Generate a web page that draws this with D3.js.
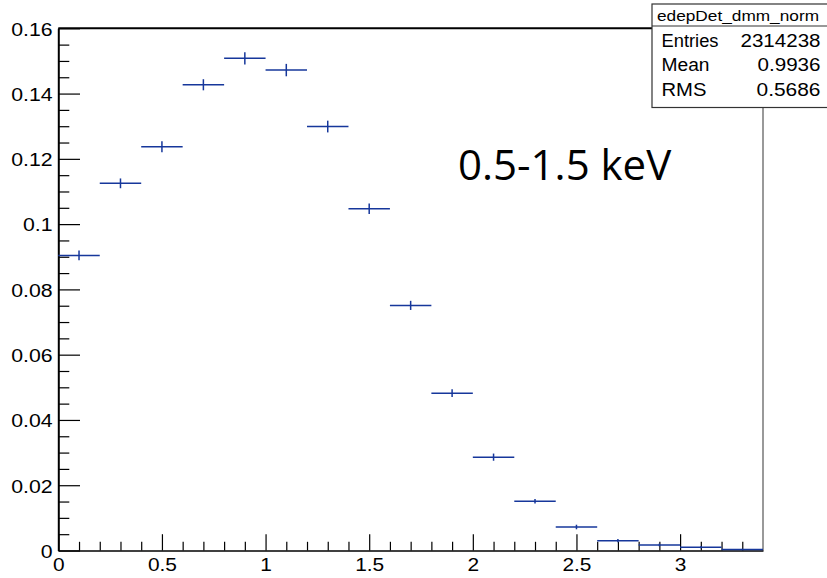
<!DOCTYPE html>
<html>
<head>
<meta charset="utf-8">
<script src="https://cdn.jsdelivr.net/npm/d3@7"></script>
<style>
  html, body { margin: 0; padding: 0; background: #fff; }
  svg { display: block; }
</style>
</head>
<body>
<svg id="chart" width="827" height="578"></svg>
<script>
// ---- data ----
const binCenters = [0.1, 0.3, 0.5, 0.7, 0.9, 1.1, 1.3, 1.5, 1.7, 1.9, 2.1, 2.3, 2.5, 2.7, 2.9, 3.1, 3.3];
const binValues  = [0.0904, 0.1125, 0.1237, 0.1427, 0.1508, 0.1472, 0.1299, 0.1047, 0.0751, 0.0482, 0.0286, 0.0151, 0.0072, 0.0030, 0.0017, 0.0010, 0.0003];
const binErrors  = [0.0015, 0.0015, 0.0017, 0.0017, 0.0019, 0.0019, 0.0018, 0.0016, 0.0014, 0.0012, 0.0011, 0.0007, 0.0007, 0.0005, 0.0004, 0.0003, 0.0002];
const binWidth = 0.2;

const xMajorTicks = [0, 0.5, 1, 1.5, 2, 2.5, 3];
const xTickLabels = ["0", "0.5", "1", "1.5", "2", "2.5", "3"];
const xMinorTicks = [0.1,0.2,0.3,0.4,0.6,0.7,0.8,0.9,1.1,1.2,1.3,1.4,1.6,1.7,1.8,1.9,2.1,2.2,2.3,2.4,2.6,2.7,2.8,2.9,3.1,3.2,3.3];
const yMajorTicks = [0, 0.02, 0.04, 0.06, 0.08, 0.1, 0.12, 0.14, 0.16];
const yTickLabels = ["0", "0.02", "0.04", "0.06", "0.08", "0.1", "0.12", "0.14", "0.16"];
const yMinorTicks = [0.005,0.01,0.015,0.025,0.03,0.035,0.045,0.05,0.055,0.065,0.07,0.075,0.085,0.09,0.095,0.105,0.11,0.115,0.125,0.13,0.135,0.145,0.15,0.155];

const statsTitle = "edepDet_dmm_norm";
const statsLabels = ["Entries", "Mean", "RMS"];
const statsValues = ["2314238", "0.9936", "0.5686"];
const annotation = "0.5-1.5 keV";

// ---- layout ----
const L = 58.3, R = 763, T = 28.3, B = 550.5;
const x = d3.scaleLinear().domain([0, 3.4]).range([L, R]);
const y = d3.scaleLinear().domain([0, 0.16]).range([B, T]);
const svg = d3.select("#chart");
const rootFont = "'Liberation Sans', Arial, Helvetica, sans-serif";

// frame top & right
svg.append("line").attr("x1", L).attr("x2", R).attr("y1", T).attr("y2", T)
  .attr("stroke", "#000").attr("stroke-width", 2);
svg.append("line").attr("x1", R).attr("x2", R).attr("y1", T).attr("y2", B)
  .attr("stroke", "#555").attr("stroke-width", 1.2);

// y axis (minor + major in separate groups)
const gyMinor = svg.append("g").attr("transform", `translate(${L},0)`);
gyMinor.call(d3.axisLeft(y).tickValues(yMinorTicks).tickSize(-11).tickSizeOuter(0).tickFormat(""));
gyMinor.select("path.domain").remove();
gyMinor.selectAll("line").attr("stroke", "#000").attr("stroke-width", 1.2);

const gy = svg.append("g").attr("transform", `translate(${L},0)`);
gy.call(d3.axisLeft(y).tickValues(yMajorTicks).tickSize(-21.7).tickSizeOuter(0).tickPadding(5)
  .tickFormat((d, i) => yTickLabels[i]));
gy.selectAll("path.domain").attr("stroke", "#000").attr("stroke-width", 2);
gy.selectAll("line").attr("stroke", "#000").attr("stroke-width", 1.2);
gy.selectAll("text").attr("font-family", rootFont).attr("font-size", 18.5)
  .attr("fill", "#000").attr("dy", "0.37em").attr("transform", "scale(1.15,1)");

// x axis (minor + major in separate groups)
const gxMinor = svg.append("g").attr("transform", `translate(0,${B})`);
gxMinor.call(d3.axisBottom(x).tickValues(xMinorTicks).tickSize(-8.7).tickSizeOuter(0).tickFormat(""));
gxMinor.select("path.domain").remove();
gxMinor.selectAll("line").attr("stroke", "#000").attr("stroke-width", 1.2);

const gx = svg.append("g").attr("transform", `translate(0,${B})`);
gx.call(d3.axisBottom(x).tickValues(xMajorTicks).tickSize(-16.3).tickSizeOuter(0).tickPadding(7.5)
  .tickFormat((d, i) => xTickLabels[i]));
gx.selectAll("path.domain").attr("stroke", "#000").attr("stroke-width", 1.5);
gx.selectAll("line").attr("stroke", "#000").attr("stroke-width", 1.2);
gx.selectAll("text").attr("font-family", rootFont).attr("font-size", 19)
  .attr("fill", "#000").attr("transform", "scale(1.1,1)");

// histogram with error bars
const histColor = "#16379b";
const hist = svg.append("g");
const pts = binCenters.map((c, i) => ({c, v: binValues[i], e: binErrors[i]}));
hist.selectAll("line.h").data(pts).enter().append("line").attr("class", "h")
  .attr("x1", d => x(d.c - binWidth / 2)).attr("x2", d => x(d.c + binWidth / 2))
  .attr("y1", d => y(d.v)).attr("y2", d => y(d.v))
  .attr("stroke", histColor).attr("stroke-width", 1.5);
hist.selectAll("line.v").data(pts).enter().append("line").attr("class", "v")
  .attr("x1", d => x(d.c)).attr("x2", d => x(d.c))
  .attr("y1", d => y(d.v - d.e)).attr("y2", d => y(d.v + d.e))
  .attr("stroke", histColor).attr("stroke-width", 1.5);

// annotation
svg.append("text").attr("x", 458).attr("y", 180)
  .attr("font-family", "'Open Sans', sans-serif").attr("font-size", 42)
  .attr("fill", "#000").text(annotation);

// stats box
const sb = {x: 652, y: 4, w: 176, h: 103.5, hdr: 26};
svg.append("rect").attr("x", sb.x).attr("y", sb.y).attr("width", sb.w).attr("height", sb.h)
  .attr("fill", "#fff").attr("stroke", "#333").attr("stroke-width", 1.2);
svg.append("line").attr("x1", sb.x).attr("x2", sb.x + sb.w).attr("y1", sb.hdr).attr("y2", sb.hdr)
  .attr("stroke", "#333").attr("stroke-width", 1.2);
svg.append("text").attr("x", 657).attr("y", 20.7)
  .attr("font-family", rootFont).attr("font-size", 14).attr("fill", "#000")
  .attr("textLength", 162).attr("lengthAdjust", "spacingAndGlyphs").text(statsTitle);
const rowBase = [46.7, 70.7, 95.7];
const labelW = [57, 48, 45];
const valW = [80, 63, 64];
statsLabels.forEach((lab, i) => {
  svg.append("text").attr("x", 661.5).attr("y", rowBase[i])
    .attr("font-family", rootFont).attr("font-size", 17.5).attr("fill", "#000")
    .attr("textLength", labelW[i]).attr("lengthAdjust", "spacingAndGlyphs").text(lab);
  svg.append("text").attr("x", 820.5 - valW[i]).attr("y", rowBase[i])
    .attr("font-family", rootFont).attr("font-size", 17.5).attr("fill", "#000")
    .attr("textLength", valW[i]).attr("lengthAdjust", "spacingAndGlyphs").text(statsValues[i]);
});
</script>
</body>
</html>
